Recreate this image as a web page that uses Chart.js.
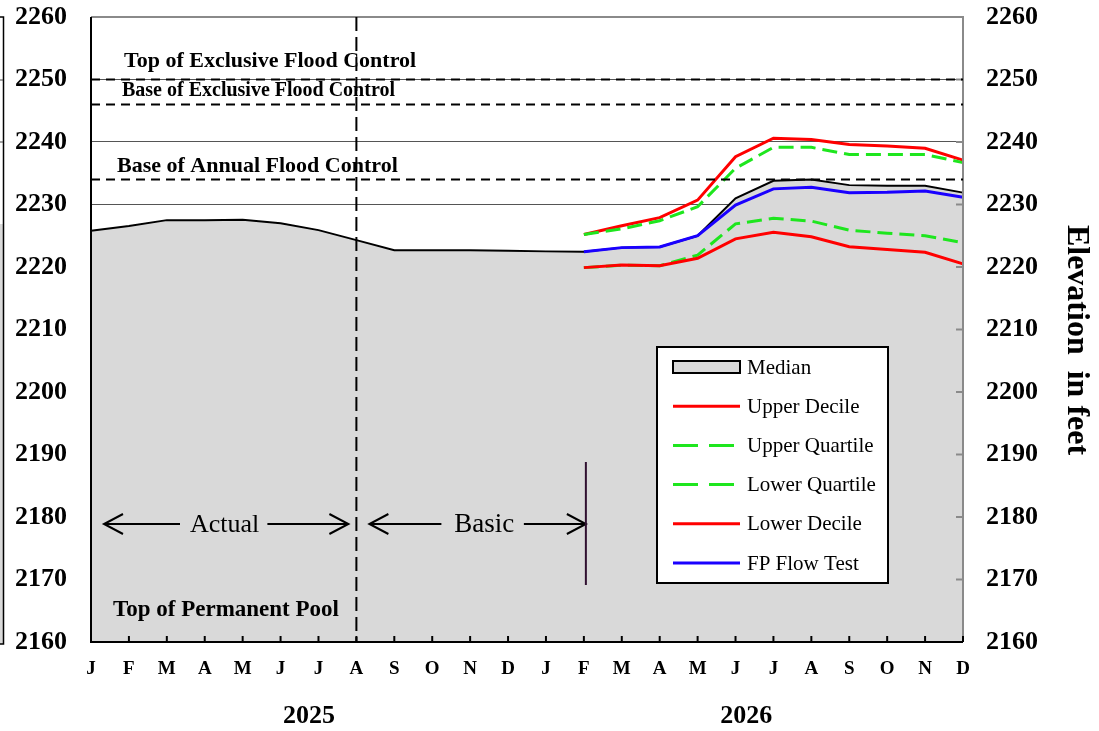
<!DOCTYPE html>
<html>
<head>
<meta charset="utf-8">
<script src="https://cdn.jsdelivr.net/npm/chart.js@4/dist/chart.umd.min.js"></script>
<style>
  html, body { margin: 0; padding: 0; background: #ffffff; }
  #wrap { width: 1099px; height: 731px; }
</style>
</head>
<body>
<div id="wrap"><canvas id="elev" width="1099" height="731"></canvas></div>
<script>
// Month axis: Jan 2025 .. Dec 2026
const months = ['J','F','M','A','M','J','J','A','S','O','N','D',
                'J','F','M','A','M','J','J','A','S','O','N','D'];
const years = ['2025', '2026'];
const yearCenters = [5.75, 17.28];          // category-index positions of the year captions

// Reservoir elevation, feet
const median        = [2225.8, 2226.55, 2227.5, 2227.5, 2227.55, 2227.0, 2225.9, 2224.3, 2222.7, 2222.7, 2222.7, 2222.6,
                       2222.5, 2222.45, 2223.1, 2223.2, 2225.0, 2231.0, 2233.8, 2234.0, 2233.1, 2233.0, 2233.0, 2231.9];
const upperDecile   = [null, null, null, null, null, null, null, null, null, null, null, null,
                       null, 2225.2, 2226.6, 2227.9, 2230.7, 2237.65, 2240.6, 2240.4, 2239.6, 2239.35, 2239.0, 2237.1];
const upperQuartile = [null, null, null, null, null, null, null, null, null, null, null, null,
                       null, 2225.2, 2226.1, 2227.4, 2229.65, 2235.8, 2239.15, 2239.15, 2238.0, 2238.0, 2238.0, 2236.7];
const lowerQuartile = [null, null, null, null, null, null, null, null, null, null, null, null,
                       null, 2219.9, 2220.3, 2220.2, 2221.9, 2226.9, 2227.8, 2227.35, 2225.9, 2225.4, 2225.0, 2223.9];
const lowerDecile   = [null, null, null, null, null, null, null, null, null, null, null, null,
                       null, 2219.9, 2220.3, 2220.2, 2221.4, 2224.5, 2225.55, 2224.85, 2223.25, 2222.8, 2222.35, 2220.5];
const fpFlowTest    = [null, null, null, null, null, null, null, null, null, null, null, null,
                       null, 2222.45, 2223.1, 2223.2, 2225.0, 2229.9, 2232.5, 2232.75, 2231.9, 2231.95, 2232.15, 2231.15];

// Flood-control reference elevations
const floodLevels = [2250, 2246, 2234];
const floodLabels = ['Top of Exclusive Flood Control', 'Base of Exclusive Flood Control', 'Base of Annual Flood Control'];
const poolLabel = 'Top of Permanent Pool';
const yMin = 2160, yMax = 2260, yStep = 10;
const actualEnd = 7;    // Aug 2025: end of recorded data
const basicEnd = 13;    // Feb 2026: start of forecast traces

const SERIF = '"Liberation Serif", "DejaVu Serif", serif';
const RED = '#ff0000', GREEN = '#1ee61e', BLUE = '#1a00ff', FILL = '#d9d9d9';

function arrow(ctx, xFrom, xTo, y) {
  // shaft from xFrom to xTo, open head at xTo
  const dir = xTo > xFrom ? 1 : -1;
  ctx.beginPath();
  ctx.moveTo(xFrom, y); ctx.lineTo(xTo, y);
  ctx.moveTo(xTo - dir * 19, y - 10); ctx.lineTo(xTo, y); ctx.lineTo(xTo - dir * 19, y + 10);
  ctx.stroke();
}

const decorations = {
  id: 'decorations',
  beforeDraw(chart) {
    const ctx = chart.ctx;
    ctx.save();
    ctx.fillStyle = '#ffffff';
    ctx.fillRect(0, 0, chart.width, chart.height);
    // edge of the neighbouring panel
    ctx.fillStyle = FILL;
    ctx.fillRect(0, 224, 3, 420);
    ctx.strokeStyle = '#000';
    ctx.lineWidth = 1.5;
    ctx.beginPath();
    ctx.moveTo(0, 17); ctx.lineTo(3.5, 17); ctx.lineTo(3.5, 644); ctx.lineTo(0, 644);
    ctx.stroke();
    ctx.strokeStyle = '#444';
    ctx.lineWidth = 1;
    [80, 142].forEach(y => { ctx.beginPath(); ctx.moveTo(0, y); ctx.lineTo(3, y); ctx.stroke(); });
    ctx.restore();
  },
  afterDatasetsDraw(chart) {
    const ctx = chart.ctx;
    const a = chart.chartArea;
    const xs = chart.scales.x, ys = chart.scales.y;
    ctx.save();

    // frame
    ctx.strokeStyle = '#8a8a8a';
    ctx.lineWidth = 2;
    ctx.beginPath();
    ctx.moveTo(a.left, a.top); ctx.lineTo(a.right, a.top); ctx.lineTo(a.right, a.bottom);
    ctx.stroke();
    ctx.strokeStyle = '#000';
    ctx.beginPath();
    ctx.moveTo(a.left, a.top); ctx.lineTo(a.left, a.bottom); ctx.lineTo(a.right, a.bottom);
    ctx.stroke();

    // inward tick marks
    ctx.lineWidth = 2;
    for (let i = 1; i < months.length; i++) {
      const x = xs.getPixelForValue(i);
      ctx.beginPath(); ctx.moveTo(x, a.bottom); ctx.lineTo(x, a.bottom - 6); ctx.stroke();
    }
    ctx.strokeStyle = '#8a8a8a';
    for (let v = yMin + yStep; v < yMax; v += yStep) {
      const y = ys.getPixelForValue(v);
      ctx.beginPath(); ctx.moveTo(a.right - 7, y); ctx.lineTo(a.right, y); ctx.stroke();
    }

    // flood control levels
    ctx.strokeStyle = '#000';
    ctx.lineWidth = 2;
    ctx.setLineDash([9, 6]);
    floodLevels.forEach(v => {
      const y = ys.getPixelForValue(v);
      ctx.beginPath(); ctx.moveTo(a.left, y); ctx.lineTo(a.right, y); ctx.stroke();
    });

    // end of record
    const xAct = xs.getPixelForValue(actualEnd);
    ctx.setLineDash([14, 6]);
    ctx.beginPath(); ctx.moveTo(xAct, a.top); ctx.lineTo(xAct, a.bottom); ctx.stroke();
    ctx.setLineDash([]);

    // level captions
    ctx.fillStyle = '#000';
    ctx.textBaseline = 'middle';
    ctx.textAlign = 'left';
    const capOffsets = [[33, -18.5, 22], [31, -13.5, 20], [26, -13.5, 22]];
    floodLabels.forEach((t, i) => {
      const y = ys.getPixelForValue(floodLevels[i]);
      ctx.font = 'bold ' + capOffsets[i][2] + 'px ' + SERIF;
      ctx.fillText(t, a.left + capOffsets[i][0], y + capOffsets[i][1]);
    });
    ctx.font = 'bold 23px ' + SERIF;
    ctx.fillText(poolLabel, a.left + 22, a.bottom - 32);

    // Actual / Basic spans
    const yArr = 524;
    const xBas = xs.getPixelForValue(basicEnd) + 2;
    ctx.lineWidth = 2;
    ctx.strokeStyle = '#000';
    ctx.font = '26px ' + SERIF;
    ctx.textAlign = 'center';
    arrow(ctx, a.left + 89, a.left + 13, yArr);
    ctx.fillText('Actual', (a.left + xAct) / 2 + 1, yArr + 1);
    arrow(ctx, xAct - 89, xAct - 8, yArr);
    arrow(ctx, xAct + 85, xAct + 13, yArr);
    ctx.font = '27px ' + SERIF;
    ctx.fillText('Basic', (xAct + xBas) / 2 + 13, yArr + 1);
    arrow(ctx, xBas - 62, xBas, yArr);
    ctx.strokeStyle = '#301030';
    ctx.beginPath(); ctx.moveTo(xBas, 462); ctx.lineTo(xBas, 585); ctx.stroke();

    // year captions
    ctx.fillStyle = '#000';
    ctx.font = 'bold 26px ' + SERIF;
    years.forEach((t, i) => ctx.fillText(t, xs.getPixelForValue(yearCenters[i]), 716));

    // right-hand axis title
    ctx.save();
    ctx.translate(1076, 340);
    ctx.rotate(Math.PI / 2);
    ctx.font = 'bold 32px ' + SERIF;
    ctx.fillText('Elevation  in feet', 0, 0);
    ctx.restore();

    // legend
    const lx = 657, ly = 347, lw = 231, lh = 236;
    ctx.fillStyle = '#ffffff';
    ctx.fillRect(lx, ly, lw, lh);
    ctx.strokeStyle = '#000';
    ctx.lineWidth = 2;
    ctx.strokeRect(lx, ly, lw, lh);
    ctx.font = '21px ' + SERIF;
    ctx.textAlign = 'left';
    chart.data.datasets.forEach((ds, row) => {
      const cy = ly + 20 + row * 39.2;
      if (ds.fill) {
        ctx.fillStyle = ds.backgroundColor;
        ctx.fillRect(lx + 16, cy - 6, 67, 12);
        ctx.strokeStyle = '#000';
        ctx.lineWidth = 2;
        ctx.strokeRect(lx + 16, cy - 6, 67, 12);
      } else {
        ctx.strokeStyle = ds.borderColor;
        ctx.lineWidth = 3;
        ctx.setLineDash(ds.borderDash && ds.borderDash.length ? [25, 11] : []);
        ctx.beginPath(); ctx.moveTo(lx + 16, cy); ctx.lineTo(lx + 83, cy); ctx.stroke();
        ctx.setLineDash([]);
      }
      ctx.fillStyle = '#000';
      ctx.fillText(ds.label, lx + 90, cy + 1);
    });

    ctx.restore();
  }
};

const lineDs = (label, data, color, dash, order) => ({
  label, data, borderColor: color, backgroundColor: color, borderWidth: 3,
  borderDash: dash, fill: false, pointRadius: 0, tension: 0, order
});

const elevTicks = {
  stepSize: yStep, color: '#000', padding: 0, crossAlign: 'far',
  font: { family: SERIF, size: 26, weight: 'bold', lineHeight: 0.01 },
  callback: (v) => String(v)
};

new Chart(document.getElementById('elev'), {
  type: 'line',
  data: {
    labels: months,
    datasets: [
      { label: 'Median', data: median, borderColor: '#000', backgroundColor: FILL, borderWidth: 2,
        fill: 'start', pointRadius: 0, tension: 0, order: 10 },
      lineDs('Upper Decile', upperDecile, RED, [], 5),
      lineDs('Upper Quartile', upperQuartile, GREEN, [15, 7], 4),
      lineDs('Lower Quartile', lowerQuartile, GREEN, [15, 7], 6),
      lineDs('Lower Decile', lowerDecile, RED, [], 3),
      lineDs('FP Flow Test', fpFlowTest, BLUE, [], 2)
    ]
  },
  options: {
    responsive: false,
    devicePixelRatio: 1,
    animation: false,
    layout: { padding: { top: 17, left: 15, right: 61, bottom: 0 } },
    plugins: { legend: { display: false }, tooltip: { enabled: false } },
    scales: {
      x: {
        offset: false,
        grid: { display: false, drawTicks: false },
        border: { display: false },
        ticks: { color: '#000', font: { family: SERIF, size: 19, weight: 'bold' }, padding: 16,
                 maxRotation: 0, autoSkip: false },
        afterFit(s) { s.height = 89; }
      },
      y: {
        position: 'left', min: yMin, max: yMax,
        grid: { color: '#555', lineWidth: 1, drawTicks: false },
        border: { display: false },
        ticks: elevTicks,
        afterFit(s) { s.width = 76; }
      },
      y2: {
        position: 'right', min: yMin, max: yMax,
        grid: { display: false, drawTicks: false },
        border: { display: false },
        ticks: elevTicks,
        afterFit(s) { s.width = 75; }
      }
    }
  },
  plugins: [decorations]
});
</script>
</body>
</html>
